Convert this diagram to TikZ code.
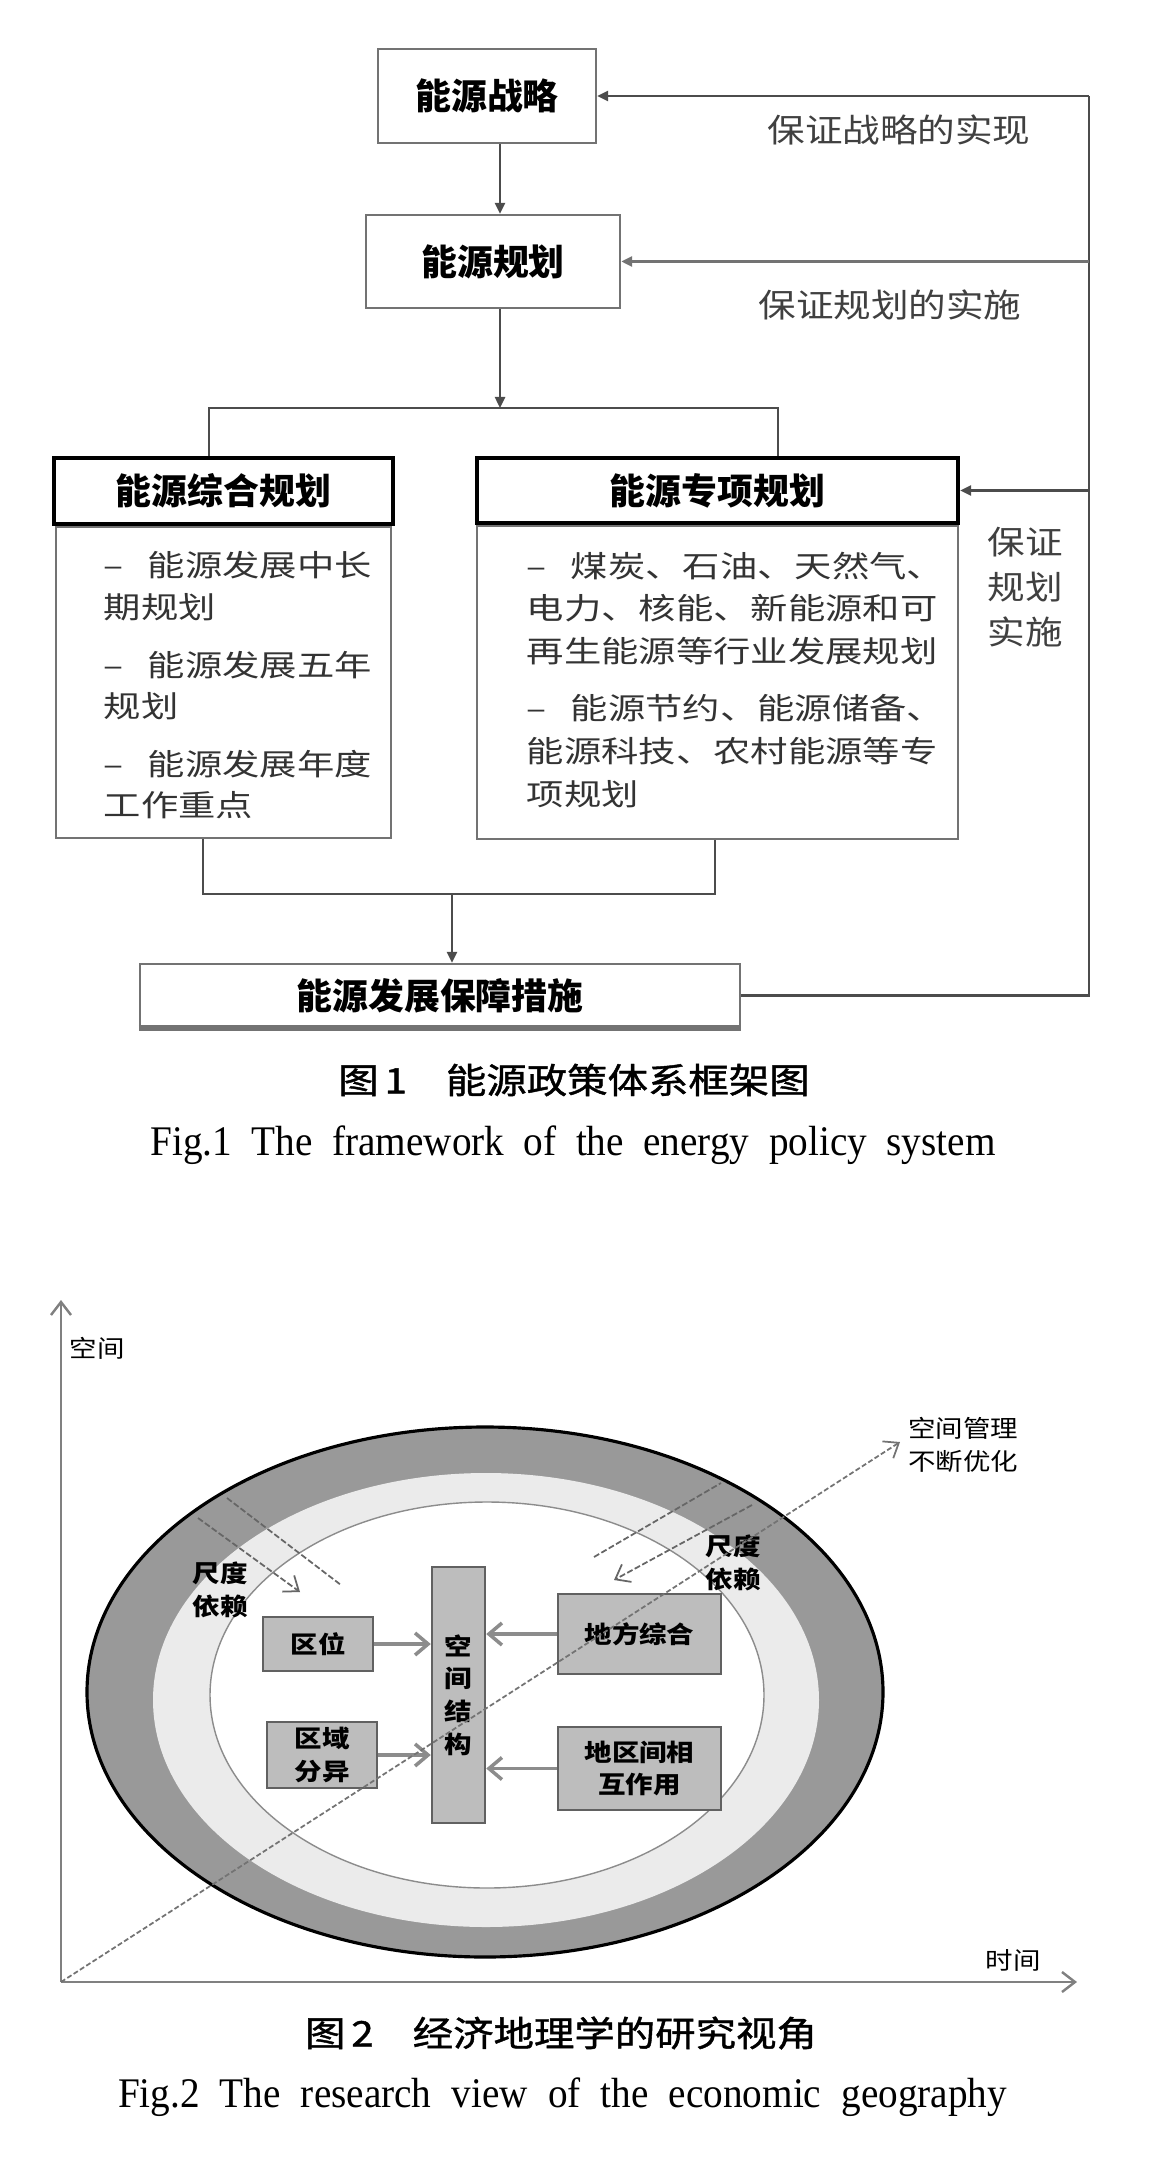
\documentclass[tikz,border=0pt]{standalone}
\usepackage{fontspec}
\usepackage{tikz}
\usetikzlibrary{arrows.meta, positioning}
\setmainfont{Liberation Serif}
\newfontfamily\capSerif[FakeStretch=0.93]{Liberation Serif}
\newfontfamily\cjkHead{Noto Sans CJK SC}
\newfontfamily\cjkText[FakeStretch=1.15]{Noto Sans CJK SC}
\newfontfamily\cjkCap[FakeStretch=1.15, FakeBold=1.2]{Noto Sans CJK SC}
\newfontfamily\cjkBody[FakeStretch=1.25]{Noto Sans CJK SC}
\newcommand\pxUnit{0.1mm}
\newcommand\lineColor{black!70}
\newcommand\ringDark{black!40}
\newcommand\ringLight{black!8}
\newcommand\geoFill{black!26}
\newcommand\geoEdge{black!62}
\newcommand\itemDash{–\hspace{2.4mm}}

\begin{document}
\begin{tikzpicture}[x=\pxUnit, y=-\pxUnit,
    feed/.style={draw=\lineColor, line width=0.7pt},
    tip/.style={feed, -{Triangle[length=1.1mm, width=1mm]}},
    planbox/.style={draw=black!55, line width=0.7pt, fill=white, inner sep=0pt,
        font=\cjkHead\bfseries\fontsize{10.2}{12}\selectfont},
    headbox/.style={draw=black, line width=1.2pt, fill=white, inner sep=0pt,
        font=\cjkHead\bfseries\fontsize{10.2}{12}\selectfont},
    bodybox/.style={draw=black!55, line width=0.6pt, inner sep=0pt},
    bodytext/.style={anchor=north west, inner sep=0pt, align=left, text=black!80},
    note/.style={inner sep=0pt, text=black!75, font=\cjkText\fontsize{9.3}{12.8}\selectfont},
    capcjk/.style={inner sep=0pt, font=\cjkCap\fontsize{10}{12}\selectfont},
    capen/.style={inner sep=0pt, font=\capSerif\fontsize{12}{14}\selectfont},
    barb/.style={-{Straight Barb[length=1.3mm, width=2mm]}},
    axis/.style={draw=black!50, line width=0.7pt, barb},
    scaleline/.style={draw=black!60, line width=0.5pt, dash pattern=on 0.6mm off 0.25mm},
    geobox/.style={draw=\geoEdge, line width=0.7pt, fill=\geoFill, inner sep=0pt, align=center,
        font=\cjkText\bfseries\fontsize{6.8}{9.3}\selectfont},
    geolabel/.style={inner sep=0pt, align=center, font=\cjkText\fontsize{6.8}{9.3}\selectfont},
    geoarrow/.style={draw=black!45, line width=1pt, -{Straight Barb[length=1.3mm, width=2.2mm]}}
]
\useasboundingbox (0,0) rectangle (1157,2178);

% Fig. 1
\node[planbox, minimum width=21.8mm, minimum height=9.4mm] (strat) at (487,96) {能源战略};
\node[planbox, minimum width=25.4mm, minimum height=9.3mm] (plan) at (493,261.5) {能源规划};
\coordinate (spine) at (500,0);
\coordinate (fork) at (500,408);
\coordinate (forkL) at (209,408);
\coordinate (forkR) at (778,408);
\coordinate (rail) at (1089,0);
\draw[tip] (strat.south -| spine) -- (plan.north -| spine);
\draw[tip] (plan.south -| spine) -- (fork);

\node[headbox, minimum width=33.9mm, minimum height=6.6mm] (zhHead) at (223.5,491) {能源综合规划};
\node[bodybox, minimum width=33.5mm, minimum height=31.1mm, below=0pt of zhHead] (zhBody) {};
\node[headbox, minimum width=48.1mm, minimum height=6.5mm] (zxHead) at (717.5,490.5) {能源专项规划};
\node[bodybox, minimum width=48.1mm, minimum height=31.3mm, below=0pt of zxHead] (zxBody) {};
\draw[feed] (zhHead.north -| forkL) -- (forkL) -- (forkR) -- (zxHead.north -| forkR);

\node[bodytext, font=\cjkBody\fontsize{8.5}{11.7}\selectfont] (zhText) at (103,551)
    {\itemDash 能源发展中长\\期规划\\[4.8pt]
     \itemDash 能源发展五年\\规划\\[4.8pt]
     \itemDash 能源发展年度\\工作重点};
\node[bodytext, font=\cjkBody\fontsize{8.5}{12.2}\selectfont] (zxText) at (526,551)
    {\itemDash 煤炭、石油、天然气、\\电力、核能、新能源和可\\再生能源等行业发展规划\\[4pt]
     \itemDash 能源节约、能源储备、\\能源科技、农村能源等专\\项规划};

\node[planbox, minimum width=60mm, minimum height=6.3mm] (guard) at (440,995.5) {能源发展保障措施};
\draw[black!55, line width=1.6pt] (guard.south west) -- (guard.south east);
\coordinate (joinL) at (203,894);
\coordinate (joinR) at (715,894);
\coordinate (joinM) at (452,894);
\draw[feed] (zhBody.south -| joinL) -- (joinL) -- (joinR) -- (zxBody.south -| joinR);
\draw[tip] (joinM) -- (guard.north -| joinM);

\draw[feed] (guard.east) -- (guard.east -| rail) -- (strat.east -| rail);
\draw[tip] (strat.east -| rail) -- (strat.east);
\draw[tip, draw=black!55, line width=1.1pt] (plan.east -| rail) -- (plan.east);
\draw[tip] (zxHead.east -| rail) -- (zxHead.east);
\node[note] (noteStrat) at (899,130) {保证战略的实现};
\node[note] (notePlan) at (890,305) {保证规划的实施};
\node[note, align=center] (noteSub) at (1025,587) {保证\\规划\\实施};

\node[capcjk] (cap1) at (574,1080) {图\,1\hspace{3.9mm}能源政策体系框架图};
\node[capen] (capEn1) at (573,1145) {\makebox[84.5mm][s]{Fig.1 The framework of the energy policy system}};

% Fig. 2
\coordinate (origin) at (61,1982);
\coordinate (spaceTip) at (61,1300);
\coordinate (timeTip) at (1077,1982);
\coordinate (optTip) at (900,1442);

\fill[\ringDark] (485,1692) ellipse [x radius=39.8mm, y radius=26.5mm];
\draw[black, line width=0.9pt] (485,1692) ellipse [x radius=39.8mm, y radius=26.5mm];
\fill[\ringLight] (486,1700) ellipse [x radius=33.3mm, y radius=22.7mm];
\filldraw[fill=white, draw=black!45, line width=0.4pt] (487,1695) ellipse [x radius=27.7mm, y radius=19.3mm];

\draw[axis] (origin) -- (spaceTip);
\draw[axis] (origin) -- (timeTip);
\node[geolabel] (spaceLbl) at (97,1348) {空间};
\node[geolabel] (timeLbl) at (1013,1960) {时间};
\node[geolabel] (optLbl) at (963,1445) {空间管理\\不断优化};

\coordinate (aStart) at (198,1518);
\coordinate (aEnd) at (300,1592);
\coordinate (bStart) at (227,1498);
\coordinate (bEnd) at (341,1585);
\coordinate (cStart) at (594,1557);
\coordinate (cEnd) at (721,1483);
\coordinate (dStart) at (752,1505);
\coordinate (dEnd) at (614,1580);
\draw[scaleline, barb] (aStart) -- (aEnd);
\draw[scaleline] (bStart) -- (bEnd);
\draw[scaleline] (cStart) -- (cEnd);
\draw[scaleline, barb] (dStart) -- (dEnd);
\node[geolabel, font=\cjkText\bfseries\fontsize{6.8}{9.3}\selectfont] (scaleL) at (220,1590) {尺度\\依赖};
\node[geolabel, font=\cjkText\bfseries\fontsize{6.8}{9.3}\selectfont] (scaleR) at (733,1563) {尺度\\依赖};

\node[geobox, minimum width=11mm, minimum height=5.4mm] (site) at (318,1644) {区位};
\node[geobox, minimum width=11mm, minimum height=6.6mm] (diverge) at (322,1755) {区域\\分异};
\node[geobox, minimum width=5.3mm, minimum height=25.6mm] (structure) at (458.5,1695) {空\\间\\结\\构};
\node[geobox, minimum width=16.3mm, minimum height=8mm] (local) at (639.5,1634) {地方综合};
\node[geobox, minimum width=16.3mm, minimum height=8.3mm] (interact) at (639.5,1768.5) {地区间相\\互作用};
\draw[geoarrow] (site.east) -- (site.east -| structure.west);
\draw[geoarrow] (diverge.east) -- (diverge.east -| structure.west);
\draw[geoarrow] (local.west) -- (local.west -| structure.east);
\draw[geoarrow] (interact.west) -- (interact.west -| structure.east);

\draw[draw=black!55, line width=0.5pt, dash pattern=on 0.5mm off 0.25mm, barb] (origin) -- (optTip);

\node[capcjk] (cap2) at (561,2033) {图\,2\hspace{3.9mm}经济地理学的研究视角};
\node[capen] (capEn2) at (562.5,2097) {\makebox[88.9mm][s]{Fig.2 The research view of the economic geography}};
\end{tikzpicture}
\end{document}
